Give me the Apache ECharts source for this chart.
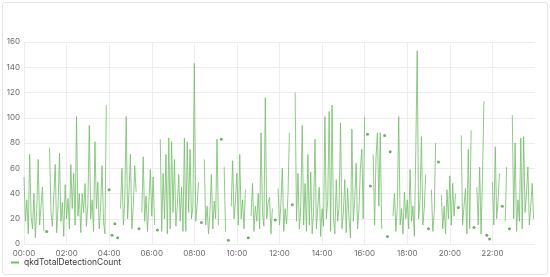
<!DOCTYPE html>
<html>
<head>
<meta charset="utf-8">
<script src="https://cdn.jsdelivr.net/npm/echarts@6/dist/echarts.min.js"></script>
<style>
  html, body { margin: 0; padding: 0; background: #fff; }
  #wrap { position: relative; width: 550px; height: 277px; }
  #frame { position: absolute; left: 2px; top: 2px; right: 2px; bottom: 2px; border: 1px solid #e4e4e4; border-radius: 3px; }
  #chart { position: absolute; left: 0; top: 0; width: 550px; height: 277px; }
</style>
</head>
<body>
<div id="wrap">
  <div id="frame"></div>
  <div id="chart"></div>
</div>
<script>
// 4-minute samples, one array per 2 hours (null = no data)
var h00 = [53, 18, 35, 8, 71, 22, 12, 40, 5, 28, 67, 15, 30, 45, 10, null, 10, null, 76, 25, 14, 38, 63, 9, 30, 72, 18, 33, 6, 47];
var h02 = [20, 36, 12, 63, 28, 56, 15, 101, 22, 40, 9, 40, 25, 48, 14, 32, 94, 20, 35, 10, 81, 28, 49, 12, 30, 62, 18, 8, 110, null];
var h04 = [43, null, 7, null, 16, null, 5, null, 28, 60, 15, 35, 101, 20, 42, 71, 12, 30, 62, 41, null, 12, null, 25, 69, 18, 38, 10, 33, 59];
var h06 = [22, 53, 15, null, 11, null, 83, 10, 56, 20, 71, 8, 84, 12, 81, 25, 67, 14, 30, 55, 18, 45, 10, 84, 10, 81, 25, 75, 20, 30];
var h08 = [143, 18, 32, 49, null, 17, null, 67, 15, 30, 8, 25, 55, 12, 34, 20, 83, 15, null, 83, null, 61, 10, null, 3, null, 30, 66, 20, 35];
var h10 = [56, 15, 71, 20, 35, 12, 43, null, 5, null, 22, 48, 10, 30, 18, 40, 12, 88, 25, 14, 116, 20, 33, 37, 8, 28, null, 19, null, 44];
var h12 = [15, 32, 60, 10, 28, 16, 40, 88, null, 31, null, 120, 18, 56, 12, 30, 94, 15, 48, 10, 71, 15, 57, 8, 25, 83, 12, 30, 45, 6];
var h14 = [28, 14, 101, 20, 35, 105, 10, 110, 22, 8, 51, 18, 30, 96, 12, 25, 51, 9, 44, 20, 5, 91, 18, 35, 64, 12, 28, 60, 75, 20];
var h16 = [101, null, 87, null, 46, null, 71, 15, 69, 88, 30, 88, 12, null, 86, null, 6, null, 73, null, 22, 40, 10, 30, 101, 15, 28, 8, 41, 20];
var h18 = [35, 12, 59, 18, 30, 6, 73, 153, 20, 35, 85, 15, 28, 55, null, 12, null, 43, 10, 25, 80, null, 65, null, 39, 12, 30, 8, 43, 20];
var h20 = [54, 15, 48, 22, 40, null, 29, null, 86, 15, 30, 44, 8, 75, 12, 90, null, 13, null, 45, 15, 61, 8, 52, 113, null, 7, null, 4, null];
var h22 = [49, 15, 77, 20, 35, 56, null, 30, null, 18, 61, null, 12, null, 102, 20, 80, 10, 35, 18, 84, 12, 85, 25, 40, 61, 15, 30, 48, 20];

var seriesName = 'qkdTotalDetectionCount';
var stepMinutes = 4;

var values = [].concat(h00, h02, h04, h06, h08, h10, h12, h14, h16, h18, h20, h22);

// time labels, one extra slot so the axis ends at 24:00
var times = [];
for (var i = 0; i <= values.length; i++) {
  var m = i * stepMinutes;
  var hh = Math.floor(m / 60), mm = m % 60;
  times.push((hh < 10 ? '0' : '') + hh + ':' + (mm < 10 ? '0' : '') + mm);
}

// lone points (no neighbours) are drawn as dots, like the source panel
var dots = values.map(function (v, i) {
  var prev = i > 0 ? values[i - 1] : null;
  var next = i < values.length - 1 ? values[i + 1] : null;
  return (v != null && prev == null && next == null) ? v : '-';
});

var green = '#73BF69';
var isTick = function (index) { return index % 30 === 0 && index < values.length; };

var myChart = echarts.init(document.getElementById('chart'));
var option = {
  animation: false,
  textStyle: { fontFamily: 'Inter, sans-serif' },
  grid: { left: 24, right: 15, top: 42, bottom: 33 },
  legend: {
    data: [seriesName],
    left: 6,
    bottom: 5,
    icon: 'rect',
    itemWidth: 8,
    itemHeight: 2,
    itemGap: 4,
    textStyle: { fontSize: 8.5, color: '#3d3d3d', fontFamily: 'Inter, sans-serif' }
  },
  xAxis: {
    type: 'category',
    data: times,
    boundaryGap: false,
    axisLine: { show: false },
    axisTick: { show: false },
    axisLabel: { interval: isTick, fontSize: 8, color: '#6e6e6e', margin: 6 },
    splitLine: { show: true, interval: isTick, lineStyle: { color: '#ededed', width: 1 } }
  },
  yAxis: {
    type: 'value',
    min: 0,
    max: 160,
    interval: 20,
    axisLine: { show: false },
    axisTick: { show: false },
    axisLabel: { fontSize: 8, color: '#6e6e6e', margin: 4 },
    splitLine: { lineStyle: { color: '#ededed', width: 1 } }
  },
  series: [
    {
      name: seriesName,
      type: 'line',
      data: values,
      showSymbol: false,
      connectNulls: false,
      itemStyle: { color: green },
      lineStyle: { color: green, width: 0.9, opacity: 0.9 }
    },
    {
      name: seriesName,
      type: 'scatter',
      data: dots,
      symbolSize: 3,
      itemStyle: { color: '#4e9a45' }
    }
  ]
};
myChart.setOption(option);
</script>
</body>
</html>
